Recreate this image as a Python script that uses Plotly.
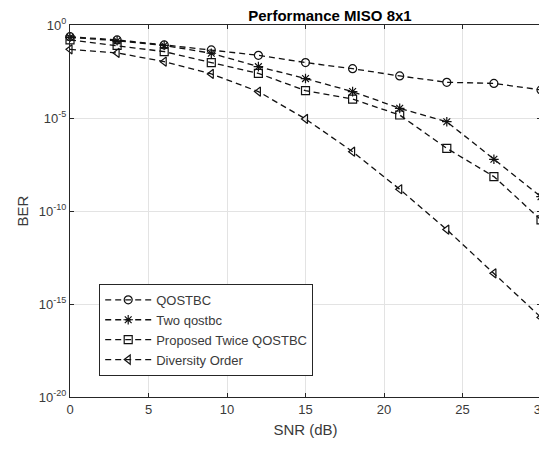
import plotly.graph_objects as go

snr = [0, 3, 6, 9, 12, 15, 18, 21, 24, 27, 30]

# log10(BER)
qostbc_log = [-0.63, -0.8, -1.07, -1.34, -1.63, -2.02, -2.35, -2.74, -3.08, -3.14, -3.49]
two_qostbc_log = [-0.66, -0.85, -1.1, -1.52, -2.24, -2.88, -3.58, -4.48, -5.2, -7.22, -9.23]
proposed_log = [-0.8, -1.1, -1.43, -2.02, -2.6, -3.53, -3.98, -4.84, -6.63, -8.15, -10.48]
diversity_log = [-1.31, -1.5, -1.97, -2.63, -3.58, -5.05, -6.81, -8.83, -11.0, -13.35, -15.72]

qostbc = [10 ** v for v in qostbc_log]
two_qostbc = [10 ** v for v in two_qostbc_log]
proposed = [10 ** v for v in proposed_log]
diversity = [10 ** v for v in diversity_log]

names = ["QOSTBC", "Two qostbc", "Proposed Twice QOSTBC", "Diversity Order"]
symbols = ["circle-open", "asterisk-open", "square-open", "triangle-left-open"]
series = [qostbc, two_qostbc, proposed, diversity]

x_ticks = [0, 5, 10, 15, 20, 25, 30]
y_tickvals = [1, 1e-5, 1e-10, 1e-15, 1e-20]
y_ticktext = ["10<sup>0</sup>", "10<sup>-5</sup>", "10<sup>-10</sup>", "10<sup>-15</sup>", "10<sup>-20</sup>"]

fig = go.Figure()
for name, sym, ys in zip(names, symbols, series):
    fig.add_trace(go.Scatter(
        x=snr, y=ys, name=name, mode="lines+markers", cliponaxis=False,
        line=dict(color="#111111", width=1.3, dash="6px,4px"),
        marker=dict(symbol=sym, size=8, color="#111111", line=dict(color="#111111", width=1.2)),
    ))

# The page adds an 8px body margin, so the figure is 8px smaller and shifted.
W, H = 539, 441
font_family = "Liberation Sans, Arial, sans-serif"
fig.update_layout(
    width=W, height=H,
    margin=dict(l=62, r=6, t=17, b=52, autoexpand=False),
    paper_bgcolor="white", plot_bgcolor="white",
    font=dict(family=font_family, size=13, color="#3a3a3a"),
    title=dict(text="<b>Performance MISO 8x1</b>", x=(62 + 533) / 2 / W, xref="paper", xanchor="center",
               y=1 - 8 / H, yanchor="middle", font=dict(size=15, color="black")),
    showlegend=True,
    legend=dict(x=0.062, y=0.304, xanchor="left", yanchor="top",
                bgcolor="white", bordercolor="#262626", borderwidth=1,
                font=dict(size=13, color="#3a3a3a"), tracegroupgap=0,
                itemwidth=46),
)
fig.update_xaxes(
    range=[0, 30], tickvals=x_ticks, showgrid=True, gridcolor="#e3e3e3", gridwidth=1,
    zeroline=False, showline=True, linecolor="#262626", linewidth=1, mirror="ticks",
    ticks="inside", ticklen=4, tickcolor="#262626", automargin=False,
    ticklabeloverflow="allow",
    title=dict(text="SNR (dB)", font=dict(size=15, color="#3a3a3a"), standoff=8),
)
fig.update_yaxes(
    type="log", range=[-20, 0], tickvals=y_tickvals, ticktext=y_ticktext,
    showgrid=True, gridcolor="#e3e3e3", gridwidth=1,
    zeroline=False, showline=True, linecolor="#262626", linewidth=1, mirror="ticks",
    ticks="inside", ticklen=4, tickcolor="#262626", automargin=False,
    ticklabeloverflow="allow",
    title=dict(text="BER", font=dict(size=15, color="#3a3a3a"), standoff=6),
)

fig.write_html("out.html")
